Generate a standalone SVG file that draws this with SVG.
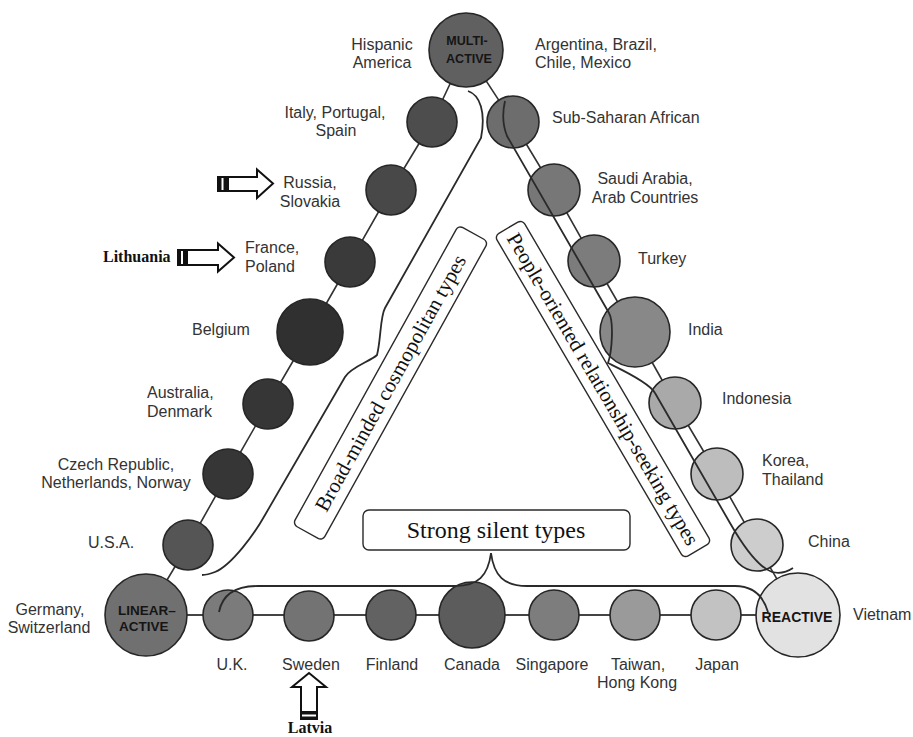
<svg xmlns="http://www.w3.org/2000/svg" width="913" height="737" viewBox="0 0 913 737">
<style>
.bg{fill:#ffffff}
.chain{fill:none;stroke:#333;stroke-width:1.6}
.base{fill:none;stroke:#444;stroke-width:2.2}
.node{stroke:#262626;stroke-width:1.6}
.brace{fill:none;stroke:#2a2a2a;stroke-width:1.8}
.lbl{font-family:"Liberation Sans",Arial,sans-serif;font-size:16px;fill:#333}
.mid{text-anchor:middle}
.hub{font-family:"Liberation Sans",Arial,sans-serif;font-weight:bold;fill:#151515}
.box{fill:#fff;stroke:#2a2a2a;stroke-width:1.4}
.serif{font-family:"Liberation Serif","Times New Roman",serif;fill:#111}
.arrow{fill:#fff;stroke:#111;stroke-width:2;stroke-linejoin:miter}
.tail{fill:#111}
</style>
<rect class="bg" x="0" y="0" width="913" height="737"/>

<g id="connectors">
  <polyline class="chain" points="466,50 432,122 391,190 350,262 310,332 268,404 228,474 188,545 146,615"/>
  <polyline class="chain" points="466,50 513,122 554,190 594,261 635,332 675,403 717,474 757,545 798,615"/>
  <line class="base" x1="146" y1="615" x2="798" y2="615"/>
</g>

<g id="node-multi-active"><circle class="node" cx="466" cy="50" r="37" fill="#606060"/>
  <text class="hub mid" x="467" y="45" font-size="12.5">MULTI-</text>
  <text class="hub mid" x="469" y="63" font-size="12.5">ACTIVE</text></g>
<g id="node-italy"><circle class="node" cx="432" cy="122" r="25" fill="#4d4d4d"/></g>
<g id="node-russia"><circle class="node" cx="391" cy="190" r="25" fill="#484848"/></g>
<g id="node-france"><circle class="node" cx="350" cy="262" r="25" fill="#3a3a3a"/></g>
<g id="node-belgium"><circle class="node" cx="310" cy="332" r="33" fill="#303030"/></g>
<g id="node-australia"><circle class="node" cx="268" cy="404" r="25" fill="#363636"/></g>
<g id="node-czech"><circle class="node" cx="228" cy="474" r="25" fill="#363636"/></g>
<g id="node-usa"><circle class="node" cx="188" cy="545" r="25" fill="#555555"/></g>
<g id="node-linear-active"><circle class="node" cx="146" cy="615" r="41" fill="#707070"/>
  <text class="hub" x="118" y="615" font-size="13.5">LINEAR–</text>
  <text class="hub" x="119" y="631" font-size="13.5">ACTIVE</text></g>
<g id="node-uk"><circle class="node" cx="228" cy="615" r="25" fill="#7b7b7b"/></g>
<g id="node-sweden"><circle class="node" cx="309" cy="616" r="25" fill="#737373"/></g>
<g id="node-finland"><circle class="node" cx="391" cy="615" r="25" fill="#626262"/></g>
<g id="node-canada"><circle class="node" cx="472" cy="615" r="33" fill="#5c5c5c"/></g>
<g id="node-singapore"><circle class="node" cx="554" cy="615" r="25" fill="#7d7d7d"/></g>
<g id="node-taiwan"><circle class="node" cx="635" cy="615" r="25" fill="#9a9a9a"/></g>
<g id="node-japan"><circle class="node" cx="716" cy="615" r="25" fill="#c2c2c2"/></g>
<g id="node-reactive"><circle class="node" cx="798" cy="615" r="42" fill="#e2e2e2"/>
  <text class="hub mid" x="797" y="622" font-size="14">REACTIVE</text></g>
<g id="node-subsaharan"><circle class="node" cx="513" cy="122" r="26" fill="#6d6d6d"/></g>
<g id="node-saudi"><circle class="node" cx="554" cy="190" r="26" fill="#777777"/></g>
<g id="node-turkey"><circle class="node" cx="594" cy="261" r="26" fill="#7c7c7c"/></g>
<g id="node-india"><circle class="node" cx="635" cy="332" r="35" fill="#888888"/></g>
<g id="node-indonesia"><circle class="node" cx="675" cy="403" r="26" fill="#a9a9a9"/></g>
<g id="node-korea"><circle class="node" cx="717" cy="474" r="26" fill="#bdbdbd"/></g>
<g id="node-china"><circle class="node" cx="757" cy="545" r="26" fill="#cdcdcd"/></g>

<g id="braces">
  <path class="brace" d="M468 91 C480 95 486 112 481 138 L385 308 C380 317 381 340 377 355 C371 361 351 367 345 377 L265 515 C255 533 232 565 215 572 C210 574 206 575 202 575"/>
  <path class="brace" d="M505 101 C502 114 503 126 507 136 L609 313 C614 322 612 352 608 363 C618 368 649 382 655 393 L730 523 C738 537 755 566 772 572 C780 574 787 572 793 568"/>
  <path class="brace" d="M219 612 C222 596 234 586 258 586 L455 586 C478 586 488 576 491 553 C494 576 504 586 527 586 L735 586 C752 586 763 595 768 612"/>
</g>

<g id="label-strong-silent">
  <rect class="box" x="363" y="510" width="267" height="40" rx="6"/>
  <text class="serif mid" x="496" y="538" font-size="24">Strong silent types</text>
</g>
<g id="label-broad-minded" transform="translate(390.5,383) rotate(-61)">
  <rect class="box" x="-171" y="-17" width="342" height="34" rx="5"/>
  <text class="serif mid" x="0" y="7" font-size="21">Broad-minded cosmopolitan types</text>
</g>
<g id="label-people-oriented" transform="translate(603,389) rotate(59.6)">
  <rect class="box" x="-187" y="-16" width="374" height="32" rx="5"/>
  <text class="serif mid" x="0" y="7" font-size="21">People-oriented relationship-seeking types</text>
</g>

<g id="country-labels">
  <text class="lbl mid" x="382" y="50">Hispanic</text>
  <text class="lbl mid" x="382" y="68">America</text>
  <text class="lbl" x="535" y="50">Argentina, Brazil,</text>
  <text class="lbl" x="535" y="68">Chile, Mexico</text>
  <text class="lbl mid" x="335" y="118">Italy, Portugal,</text>
  <text class="lbl mid" x="336" y="136">Spain</text>
  <text class="lbl" x="552" y="123">Sub-Saharan African</text>
  <text class="lbl mid" x="310" y="188">Russia,</text>
  <text class="lbl mid" x="310" y="207">Slovakia</text>
  <text class="lbl mid" x="645" y="184">Saudi Arabia,</text>
  <text class="lbl mid" x="645" y="203">Arab Countries</text>
  <text class="lbl" x="245" y="253">France,</text>
  <text class="lbl" x="245" y="272">Poland</text>
  <text class="lbl" x="638" y="264">Turkey</text>
  <text class="lbl" x="192" y="335">Belgium</text>
  <text class="lbl" x="688" y="335">India</text>
  <text class="lbl" x="147" y="398">Australia,</text>
  <text class="lbl" x="147" y="417">Denmark</text>
  <text class="lbl" x="722" y="404">Indonesia</text>
  <text class="lbl mid" x="116" y="470">Czech Republic,</text>
  <text class="lbl mid" x="116" y="488">Netherlands, Norway</text>
  <text class="lbl" x="762" y="466">Korea,</text>
  <text class="lbl" x="762" y="485">Thailand</text>
  <text class="lbl" x="88" y="548">U.S.A.</text>
  <text class="lbl" x="808" y="547">China</text>
  <text class="lbl mid" x="50" y="615">Germany,</text>
  <text class="lbl mid" x="49" y="633">Switzerland</text>
  <text class="lbl" x="853" y="620">Vietnam</text>
  <text class="lbl mid" x="232" y="670">U.K.</text>
  <text class="lbl mid" x="311" y="670">Sweden</text>
  <text class="lbl mid" x="392" y="670">Finland</text>
  <text class="lbl mid" x="472" y="670">Canada</text>
  <text class="lbl mid" x="552" y="670">Singapore</text>
  <text class="lbl mid" x="638" y="670">Taiwan,</text>
  <text class="lbl mid" x="637" y="688">Hong Kong</text>
  <text class="lbl mid" x="717" y="670">Japan</text>
</g>

<g id="arrow-russia">
  <polygon class="arrow" points="228,177 257,177 257,169.5 273,183.5 257,198 257,191 228,191"/>
  <rect class="tail" x="217" y="176" width="11" height="16"/>
  <rect fill="#fff" x="221.5" y="178" width="2" height="12"/>
</g>
<g id="arrow-lithuania">
  <polygon class="arrow" points="187,250 218,250 218,243.5 234,257.5 218,271.5 218,265 187,265"/>
  <rect class="tail" x="177" y="249" width="10" height="17"/>
  <rect fill="#fff" x="181" y="251" width="2" height="13"/>
  <text class="serif" x="103" y="262" font-size="16" font-weight="bold">Lithuania</text>
</g>
<g id="arrow-latvia">
  <polygon class="arrow" points="301,712 301,687 292,687 309,673 326,687 317,687 317,712"/>
  <rect class="tail" x="300" y="711" width="18" height="9"/>
  <rect fill="#fff" x="302" y="714.5" width="14" height="2"/>
  <text class="serif mid" x="310" y="733" font-size="16" font-weight="bold">Latvia</text>
</g>
</svg>
